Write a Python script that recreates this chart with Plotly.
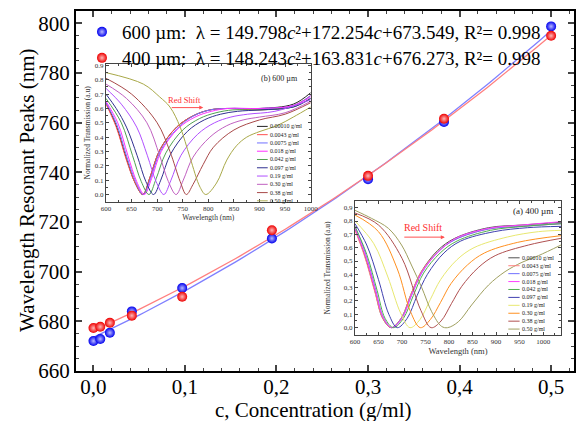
import numpy as np
import plotly.graph_objects as go

# ---------------- main data ----------------
conc = [0.0001, 0.0075, 0.018, 0.042, 0.097, 0.195, 0.300, 0.383, 0.500]
peak_600 = [672.1, 672.9, 675.4, 684.0, 693.4, 713.4, 737.2, 760.3, 798.8]
peak_400 = [677.3, 677.8, 679.4, 682.3, 689.9, 716.7, 738.6, 761.6, 795.0]
fit_600 = [149.798, 172.254, 673.549]
fit_400 = [148.243, 163.831, 676.273]
x_ticks = [0.0, 0.1, 0.2, 0.3, 0.4, 0.5]
x_ticktext = ["0,0", "0,1", "0,2", "0,3", "0,4", "0,5"]

legend_600 = "600 \u00b5m:  \u03bb = 149.798<i>c</i>\u00b2+172.254<i>c</i>+673.549, R\u00b2= 0.998"
legend_400 = "400 \u00b5m:  \u03bb = 148.243<i>c</i>\u00b2+163.831<i>c</i>+676.273, R\u00b2= 0.998"

# ---------------- inset spectra ----------------
conc_labels = ["0.00010 g/ml", "0.0043 g/ml", "0.0075 g/ml", "0.018 g/ml", "0.042 g/ml",
               "0.097 g/ml", "0.19 g/ml", "0.30 g/ml", "0.38 g/ml", "0.50 g/ml"]
colors_600 = ["#222222", "#ff5050", "#7070ff", "#ff30ff", "#50a050",
              "#303090", "#b050ff", "#c060c0", "#a84848", "#a8a848"]
colors_400 = ["#505050", "#ff8080", "#7070ff", "#ff40ff", "#50b050",
              "#4040b0", "#e8e870", "#ff9020", "#b05050", "#a0a060"]

wl_600 = [
    [600, 620, 640, 657, 672, 686, 705, 738, 771, 803, 836, 901, 966, 1000],
    [600, 620, 640, 657, 672, 686, 705, 738, 771, 803, 836, 901, 966, 1000],
    [600, 621, 641, 658, 673, 687, 706, 739, 772, 804, 837, 901, 966, 1000],
    [600, 623, 643, 660, 675, 689, 708, 741, 774, 806, 839, 901, 966, 1000],
    [600, 630, 652, 669, 684, 698, 717, 750, 783, 815, 848, 901, 966, 1000],
    [600, 620, 640, 661, 678, 693, 707, 726, 759, 792, 824, 857, 901, 966, 1000],
    [600, 630, 660, 681, 698, 713, 727, 746, 779, 812, 844, 877, 930, 1000],
    [600, 640, 680, 705, 722, 737, 751, 770, 803, 836, 868, 900, 950, 1000],
    [600, 650, 700, 725, 745, 757, 770, 790, 810, 850, 900, 950, 1000],
    [600, 673, 705, 725, 745, 764, 784, 795, 816, 836, 855, 875, 901, 934, 966, 1000],
]
tr_600 = [
    [0.64, 0.48, 0.25, 0.08, 0.0, 0.12, 0.31, 0.47, 0.55, 0.59, 0.60, 0.60, 0.63, 0.71],
    [0.63, 0.47, 0.24, 0.08, 0.0, 0.12, 0.31, 0.47, 0.55, 0.59, 0.60, 0.59, 0.62, 0.69],
    [0.64, 0.49, 0.26, 0.09, 0.0, 0.11, 0.30, 0.46, 0.55, 0.59, 0.60, 0.60, 0.62, 0.69],
    [0.65, 0.50, 0.27, 0.09, 0.0, 0.11, 0.30, 0.46, 0.54, 0.58, 0.60, 0.60, 0.62, 0.68],
    [0.67, 0.50, 0.27, 0.09, 0.0, 0.11, 0.29, 0.45, 0.53, 0.57, 0.59, 0.59, 0.61, 0.67],
    [0.70, 0.60, 0.47, 0.27, 0.09, 0.0, 0.10, 0.28, 0.44, 0.52, 0.56, 0.58, 0.59, 0.61, 0.67],
    [0.74, 0.63, 0.47, 0.27, 0.09, 0.0, 0.10, 0.27, 0.42, 0.50, 0.54, 0.56, 0.58, 0.66],
    [0.77, 0.67, 0.50, 0.27, 0.09, 0.0, 0.10, 0.26, 0.40, 0.48, 0.52, 0.54, 0.57, 0.65],
    [0.81, 0.70, 0.50, 0.30, 0.09, 0.0, 0.07, 0.21, 0.33, 0.45, 0.52, 0.56, 0.64],
    [0.85, 0.77, 0.68, 0.61, 0.47, 0.26, 0.05, 0.0, 0.08, 0.24, 0.34, 0.40, 0.44, 0.48, 0.54, 0.61],
]

wl_400 = [
    [600, 620, 642, 659, 677, 698, 719, 741, 776, 812, 884, 955, 1038],
    [600, 620, 642, 659, 677, 698, 719, 741, 776, 812, 884, 955, 1038],
    [600, 621, 643, 660, 678, 699, 720, 742, 777, 813, 884, 955, 1038],
    [600, 622, 644, 661, 679, 700, 721, 743, 778, 814, 884, 955, 1038],
    [600, 625, 647, 664, 682, 703, 724, 746, 781, 817, 888, 959, 1038],
    [600, 625, 650, 672, 690, 711, 732, 754, 789, 825, 896, 967, 1038],
    [600, 640, 670, 697, 717, 738, 760, 782, 817, 853, 924, 990, 1038],
    [600, 650, 690, 718, 739, 760, 782, 804, 839, 875, 946, 1038],
    [600, 650, 700, 740, 762, 783, 805, 827, 862, 898, 969, 1038],
    [600, 635, 671, 699, 720, 742, 763, 784, 797, 820, 848, 884, 919, 955, 990, 1038],
]
tr_400 = [
    [0.74, 0.55, 0.28, 0.07, 0.0, 0.07, 0.25, 0.42, 0.58, 0.67, 0.75, 0.77, 0.79],
    [0.73, 0.54, 0.27, 0.07, 0.0, 0.07, 0.25, 0.42, 0.57, 0.66, 0.74, 0.76, 0.78],
    [0.76, 0.57, 0.30, 0.08, 0.0, 0.07, 0.24, 0.41, 0.57, 0.66, 0.74, 0.76, 0.78],
    [0.745, 0.545, 0.27, 0.07, 0.0, 0.07, 0.25, 0.42, 0.57, 0.67, 0.745, 0.77, 0.795],
    [0.76, 0.55, 0.28, 0.07, 0.0, 0.07, 0.24, 0.41, 0.56, 0.65, 0.73, 0.76, 0.78],
    [0.78, 0.62, 0.36, 0.10, 0.0, 0.07, 0.24, 0.40, 0.56, 0.65, 0.72, 0.75, 0.76],
    [0.80, 0.63, 0.38, 0.11, 0.0, 0.06, 0.21, 0.36, 0.51, 0.60, 0.68, 0.72, 0.73],
    [0.845, 0.72, 0.44, 0.12, 0.0, 0.06, 0.19, 0.33, 0.47, 0.56, 0.64, 0.69],
    [0.86, 0.77, 0.52, 0.13, 0.0, 0.05, 0.18, 0.31, 0.45, 0.54, 0.62, 0.67],
    [0.88, 0.82, 0.745, 0.62, 0.47, 0.30, 0.12, 0.01, 0.0, 0.045, 0.17, 0.32, 0.42, 0.49, 0.54, 0.62],
]

inset_yticks = [0.0, 0.1, 0.2, 0.3, 0.4, 0.5, 0.6, 0.7, 0.8, 0.9]
inset_b_yticktext = ["0.0", "0.1", "0.2", "0.3", "0.4", "0.5", "0.6", "0.7", "0.8", "0.9"]
inset_a_yticktext = ["0,0", "0,1", "0,2", "0,3", "0,4", "0,5", "0,6", "0,7", "0,8", "0,9"]

SERIF = "'Liberation Serif', 'Times New Roman', Times, 'DejaVu Serif', serif"
fig = go.Figure()

# ---- main fit lines ----
c_fit = np.linspace(0, 0.5, 101)
fig.add_trace(go.Scatter(x=c_fit, y=np.polyval(fit_600, c_fit), mode="lines",
                         line=dict(color="#7f7fff", width=1.3), showlegend=False, hoverinfo="skip"))
fig.add_trace(go.Scatter(x=c_fit, y=np.polyval(fit_400, c_fit), mode="lines",
                         line=dict(color="#ff7f7f", width=1.3), showlegend=False, hoverinfo="skip"))
# ---- main points ----
fig.add_trace(go.Scatter(x=conc, y=peak_600, mode="markers", name=legend_600, legend="legend",
                         marker=dict(size=10, color="#0000ee", line=dict(width=0),
                                     gradient=dict(type="radial", color="#b8b8ff"))))
fig.add_trace(go.Scatter(x=conc, y=peak_400, mode="markers", name=legend_400, legend="legend2",
                         marker=dict(size=10, color="#ee0000", line=dict(width=0),
                                     gradient=dict(type="radial", color="#ffb8b8"))))

# ---- inset spectra ----
for i in range(10):
    fig.add_trace(go.Scatter(x=wl_600[i], y=tr_600[i], mode="lines", xaxis="x2", yaxis="y2",
                             line=dict(color=colors_600[i], width=1, shape="spline"),
                             showlegend=False, hoverinfo="skip"))
    fig.add_trace(go.Scatter(x=wl_400[i], y=tr_400[i], mode="lines", xaxis="x3", yaxis="y3",
                             line=dict(color=colors_400[i], width=1, shape="spline"),
                             showlegend=False, hoverinfo="skip"))

shapes = []
annotations = []
# inset legends (drawn manually, small)
for i in range(10):
    yb = 0.475 - 0.0577 * i
    shapes.append(dict(type="line", xref="x2", yref="y2", x0=895, x1=916, y0=yb, y1=yb,
                       line=dict(color=colors_600[i], width=1)))
    annotations.append(dict(xref="x2", yref="y2", x=916, y=yb, text=conc_labels[i],
                            showarrow=False, xanchor="left", yanchor="middle",
                            font=dict(family=SERIF, size=6, color="#222")))
    ya = 0.524 - 0.0594 * i
    shapes.append(dict(type="line", xref="x3", yref="y3", x0=926, x1=950, y0=ya, y1=ya,
                       line=dict(color=colors_400[i], width=1)))
    annotations.append(dict(xref="x3", yref="y3", x=950, y=ya, text=conc_labels[i],
                            showarrow=False, xanchor="left", yanchor="middle",
                            font=dict(family=SERIF, size=6, color="#222")))

annotations += [
    dict(xref="x2", yref="y2", x=940, y=0.807, text="(b) 600 \u00b5m", showarrow=False,
         font=dict(family=SERIF, size=8, color="#222")),
    dict(xref="x3", yref="y3", x=978, y=0.874, text="(a) 400 \u00b5m", showarrow=False,
         font=dict(family=SERIF, size=9, color="#222")),
    dict(xref="x2", yref="y2", x=754, y=0.661, text="Red Shift", showarrow=False,
         font=dict(family=SERIF, size=8.5, color="#ff3030")),
    dict(xref="x3", yref="y3", x=745, y=0.749, text="Red Shift", showarrow=False,
         font=dict(family=SERIF, size=10, color="#ff3030")),
    dict(xref="x2", yref="y2", x=790, y=0.606, ax=-33, ay=0, text="", showarrow=True,
         arrowhead=2, arrowsize=0.8, arrowwidth=1, arrowcolor="#ff5050"),
    dict(xref="x3", yref="y3", x=791, y=0.679, ax=-42, ay=0, text="", showarrow=True,
         arrowhead=2, arrowsize=0.8, arrowwidth=1, arrowcolor="#ff5050"),
    # main axis titles placed precisely
    dict(xref="paper", yref="paper", x=(313 - 76) / 498, y=(371 - 410) / 360,
         text="c, Concentration (g/ml)", showarrow=False, xanchor="center", yanchor="middle",
         font=dict(family=SERIF, size=21, color="black")),
    dict(xref="paper", yref="paper", x=(27 - 76) / 498, y=(371 - 190) / 360, textangle=-90,
         text="Wavelength Resonant Peaks (nm)", showarrow=False, xanchor="center", yanchor="middle",
         font=dict(family=SERIF, size=21, color="black")),
]

main_font = dict(family=SERIF, size=21, color="black")
inset_tick_font = dict(family=SERIF, size=7, color="#333")
inset_title_font = dict(family=SERIF, size=7.5, color="#333")
legend_font = dict(family=SERIF, size=19, color="black")

def inset_axis(**kw):
    d = dict(showline=True, linecolor="#444", linewidth=1, mirror="ticks", ticks="inside",
             ticklen=3, tickwidth=0.8, tickcolor="#444", showgrid=False, zeroline=False,
             tickfont=inset_tick_font, automargin=False)
    d.update(kw)
    return d

fig.update_layout(
    template="none",
    width=576, height=421,
    margin=dict(l=76, r=2, t=11, b=50, autoexpand=False),
    plot_bgcolor="white", paper_bgcolor="white",
    font=dict(family=SERIF, color="black"),
    showlegend=True,
    legend=dict(x=0.012, y=(371 - 32) / 360, xanchor="left", yanchor="middle",
                bgcolor="rgba(0,0,0,0)", font=legend_font),
    legend2=dict(x=0.012, y=(371 - 58) / 360, xanchor="left", yanchor="middle",
                 bgcolor="rgba(0,0,0,0)", font=legend_font),
    xaxis=dict(range=[-0.019, 0.525], tickvals=x_ticks, ticktext=x_ticktext, automargin=False,
               ticks="inside", ticklen=6, tickwidth=1.5, showline=True, linewidth=2,
               linecolor="black", mirror="ticks", showgrid=False, zeroline=False,
               minor=dict(dtick=0.02, ticklen=3, tickwidth=1, ticks="inside", showgrid=False),
               tickfont=main_font, ticklabelstandoff=-4),
    yaxis=dict(range=[660, 805], dtick=20, tick0=660, automargin=False,
               ticks="inside", ticklen=6, tickwidth=1.5, showline=True, linewidth=2,
               linecolor="black", mirror="ticks", showgrid=False, zeroline=False,
               minor=dict(dtick=5, ticklen=3, tickwidth=1, ticks="inside", showgrid=False),
               tickfont=main_font),
    xaxis2=inset_axis(domain=[0.0602, 0.4713], anchor="y2", range=[600, 1000], dtick=50,
                      minor=dict(dtick=25, ticklen=2, ticks="inside"),
                      title=dict(text="Wavelength (nm)", font=inset_title_font, standoff=2)),
    yaxis2=inset_axis(domain=[0.4703, 0.8528], anchor="x2", range=[-0.05, 0.91],
                      tickvals=inset_yticks, ticktext=inset_b_yticktext,
                      minor=dict(dtick=0.05, ticklen=2, ticks="inside"),
                      title=dict(text="Normalized Transmission (a.u)", font=inset_title_font, standoff=3)),
    xaxis3=inset_axis(domain=[0.5602, 0.9739], anchor="y3", range=[600, 1038], dtick=50,
                      minor=dict(dtick=25, ticklen=2, ticks="inside"),
                      title=dict(text="Wavelength (nm)", font=dict(family=SERIF, size=8.5, color="#333"), standoff=2)),
    yaxis3=inset_axis(domain=[0.10, 0.4722], anchor="x3", range=[-0.055, 0.95],
                      tickvals=inset_yticks, ticktext=inset_a_yticktext,
                      minor=dict(dtick=0.05, ticklen=2, ticks="inside"),
                      title=dict(text="Normalized Transmission (a.u)", font=inset_title_font, standoff=12)),
    shapes=shapes,
    annotations=annotations,
)

fig.write_html("out.html", config={"displayModeBar": False},
               post_script="document.body.style.margin='0px';document.body.style.overflow='hidden';")
